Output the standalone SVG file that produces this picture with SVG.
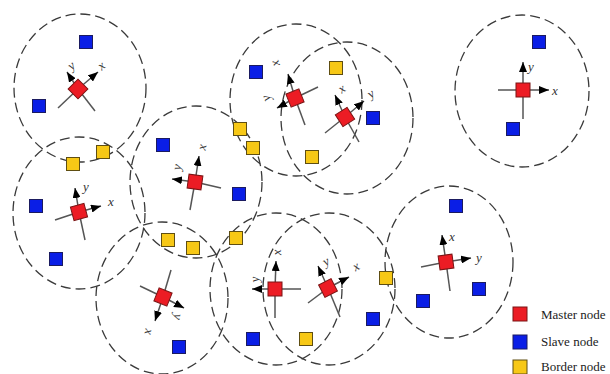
<svg xmlns="http://www.w3.org/2000/svg" width="610" height="374" viewBox="0 0 610 374">
<style>
.range{fill:none;stroke:#3a3a3a;stroke-width:1.3;stroke-dasharray:10 5}
.arm{stroke:#555;stroke-width:1.5;fill:none}
.ax{stroke:#555;stroke-width:1.5;fill:none;marker-end:url(#ah)}
.master{fill:#ec1c24;stroke:#7a1414;stroke-width:1}
.slave{fill:#0a1ee6;stroke:#1b1b60;stroke-width:1}
.border{fill:#f7c816;stroke:#5f4e12;stroke-width:1}
.lbl{font-family:"Liberation Serif",serif;font-style:italic;font-size:13px;fill:#333}
.leg{font-family:"Liberation Serif",serif;font-size:13px;fill:#222}
</style>
<defs>
<marker id="ah" markerUnits="userSpaceOnUse" markerWidth="10" markerHeight="8" refX="10" refY="4" orient="auto">
<path d="M0,0 L10,4 L0,8 z" fill="#000"/>
</marker>
<rect id="sq" x="-6.5" y="-6.5" width="13" height="13"/>
<rect id="msq" x="-7" y="-7" width="14" height="14"/>
</defs>
<rect width="610" height="374" fill="#fff"/>

<g id="ranges">
<ellipse class="range" cx="80" cy="88" rx="66" ry="74"/>
<ellipse class="range" cx="79" cy="213" rx="66" ry="76"/>
<ellipse class="range" cx="196" cy="182" rx="66" ry="76"/>
<ellipse class="range" cx="162" cy="298" rx="66" ry="76"/>
<ellipse class="range" cx="296" cy="100" rx="66" ry="76"/>
<ellipse class="range" cx="347" cy="118" rx="66" ry="76"/>
<ellipse class="range" cx="522" cy="91" rx="67" ry="76"/>
<ellipse class="range" cx="276" cy="289" rx="66" ry="76"/>
<ellipse class="range" cx="329" cy="289" rx="66" ry="76"/>
<ellipse class="range" cx="449" cy="262" rx="64" ry="76"/>
</g>

<g id="slaves">
<use href="#sq" class="slave" x="86" y="42"/>
<use href="#sq" class="slave" x="39" y="106"/>
<use href="#sq" class="slave" x="163" y="145"/>
<use href="#sq" class="slave" x="36" y="206"/>
<use href="#sq" class="slave" x="56" y="259"/>
<use href="#sq" class="slave" x="239" y="194"/>
<use href="#sq" class="slave" x="256" y="72"/>
<use href="#sq" class="slave" x="373" y="118"/>
<use href="#sq" class="slave" x="539" y="42"/>
<use href="#sq" class="slave" x="513" y="129"/>
<use href="#sq" class="slave" x="179" y="347"/>
<use href="#sq" class="slave" x="253" y="339"/>
<use href="#sq" class="slave" x="373" y="319"/>
<use href="#sq" class="slave" x="456" y="206"/>
<use href="#sq" class="slave" x="479" y="289"/>
<use href="#sq" class="slave" x="423" y="301"/>
</g>

<g id="borders">
<use href="#sq" class="border" x="73" y="164"/>
<use href="#sq" class="border" x="103" y="152"/>
<use href="#sq" class="border" x="240" y="129"/>
<use href="#sq" class="border" x="253" y="148"/>
<use href="#sq" class="border" x="336" y="68"/>
<use href="#sq" class="border" x="312" y="157"/>
<use href="#sq" class="border" x="168" y="240"/>
<use href="#sq" class="border" x="193" y="248"/>
<use href="#sq" class="border" x="236" y="238"/>
<use href="#sq" class="border" x="306" y="339"/>
<use href="#sq" class="border" x="386" y="278"/>
</g>

<g id="master1">
<line class="arm" x1="78" y1="89" x2="58" y2="108"/>
<line class="arm" x1="78" y1="89" x2="95" y2="111"/>
<line class="ax" x1="78" y1="89" x2="98" y2="72"/>
<line class="ax" x1="78" y1="89" x2="67" y2="72"/>
<use href="#msq" class="master" transform="translate(78 89) rotate(45)"/>
<text class="lbl" transform="translate(104 69) rotate(-40)" text-anchor="middle">x</text>
<text class="lbl" transform="translate(74 69) rotate(-40)" text-anchor="middle">y</text>
</g>

<g id="master2">
<line class="arm" x1="79" y1="212" x2="55" y2="220"/>
<line class="arm" x1="79" y1="212" x2="85" y2="240"/>
<line class="ax" x1="79" y1="212" x2="101" y2="206"/>
<line class="ax" x1="79" y1="212" x2="75" y2="188"/>
<use href="#msq" class="master" transform="translate(79 212) rotate(-15)"/>
<text class="lbl" x="111" y="206" text-anchor="middle">x</text>
<text class="lbl" x="86" y="191" text-anchor="middle">y</text>
</g>

<g id="master3">
<line class="arm" x1="195" y1="182" x2="221" y2="188"/>
<line class="arm" x1="195" y1="182" x2="190" y2="210"/>
<line class="ax" x1="195" y1="182" x2="199" y2="156"/>
<line class="ax" x1="195" y1="182" x2="172" y2="179"/>
<use href="#msq" class="master" transform="translate(195 182) rotate(8)"/>
<text class="lbl" transform="translate(206 148) rotate(-80)" text-anchor="middle">x</text>
<text class="lbl" transform="translate(181 168) rotate(-80)" text-anchor="middle">y</text>
</g>

<g id="master4">
<line class="arm" x1="163" y1="297" x2="171" y2="270"/>
<line class="arm" x1="163" y1="297" x2="140" y2="286"/>
<line class="ax" x1="163" y1="297" x2="155" y2="321"/>
<line class="ax" x1="163" y1="297" x2="184" y2="308"/>
<use href="#msq" class="master" transform="translate(163 297) rotate(22)"/>
<text class="lbl" transform="translate(145 331) rotate(100)" text-anchor="middle">x</text>
<text class="lbl" transform="translate(174 316) rotate(100)" text-anchor="middle">y</text>
</g>

<g id="master5">
<line class="arm" x1="295" y1="98" x2="318" y2="87"/>
<line class="arm" x1="295" y1="98" x2="305" y2="125"/>
<line class="ax" x1="295" y1="98" x2="288" y2="74"/>
<line class="ax" x1="295" y1="98" x2="277" y2="108"/>
<use href="#msq" class="master" transform="translate(295 98) rotate(-22)"/>
<text class="lbl" transform="translate(279 62) rotate(-110)" text-anchor="middle">x</text>
<text class="lbl" transform="translate(270 97) rotate(-110)" text-anchor="middle">y</text>
</g>

<g id="master6">
<line class="arm" x1="345" y1="117" x2="325" y2="133"/>
<line class="arm" x1="345" y1="117" x2="359" y2="142"/>
<line class="ax" x1="345" y1="117" x2="335" y2="95"/>
<line class="ax" x1="345" y1="117" x2="364" y2="101"/>
<use href="#msq" class="master" transform="translate(345 117) rotate(-33)"/>
<text class="lbl" transform="translate(344 92) rotate(-35)" text-anchor="middle">x</text>
<text class="lbl" transform="translate(373 97) rotate(-35)" text-anchor="middle">y</text>
</g>

<g id="master7">
<line class="arm" x1="523" y1="90" x2="498" y2="90"/>
<line class="arm" x1="523" y1="90" x2="523" y2="119"/>
<line class="ax" x1="523" y1="90" x2="549" y2="90"/>
<line class="ax" x1="523" y1="90" x2="523" y2="62"/>
<use href="#msq" class="master" transform="translate(523 90)"/>
<text class="lbl" x="555" y="95" text-anchor="middle">x</text>
<text class="lbl" x="531" y="71" text-anchor="middle">y</text>
</g>

<g id="master8">
<line class="arm" x1="275" y1="289" x2="301" y2="289"/>
<line class="arm" x1="275" y1="289" x2="275" y2="318"/>
<line class="ax" x1="275" y1="289" x2="276" y2="261"/>
<line class="ax" x1="275" y1="289" x2="252" y2="289"/>
<use href="#msq" class="master" transform="translate(275 289)"/>
<text class="lbl" transform="translate(281 252) rotate(-95)" text-anchor="middle">x</text>
<text class="lbl" transform="translate(259 279) rotate(-95)" text-anchor="middle">y</text>
</g>

<g id="master9">
<line class="arm" x1="328" y1="288" x2="308" y2="303"/>
<line class="arm" x1="328" y1="288" x2="340" y2="317"/>
<line class="ax" x1="328" y1="288" x2="318" y2="266"/>
<line class="ax" x1="328" y1="288" x2="349" y2="277"/>
<use href="#msq" class="master" transform="translate(328 288) rotate(-27)"/>
<text class="lbl" transform="translate(328 265) rotate(-30)" text-anchor="middle">y</text>
<text class="lbl" transform="translate(358 270) rotate(-30)" text-anchor="middle">x</text>
</g>

<g id="master10">
<line class="arm" x1="446" y1="262" x2="421" y2="267"/>
<line class="arm" x1="446" y1="262" x2="450" y2="291"/>
<line class="ax" x1="446" y1="262" x2="442" y2="235"/>
<line class="ax" x1="446" y1="262" x2="471" y2="258"/>
<use href="#msq" class="master" transform="translate(446 262) rotate(-8)"/>
<text class="lbl" x="452" y="241" text-anchor="middle">x</text>
<text class="lbl" x="479" y="262" text-anchor="middle">y</text>
</g>

<g id="legend">
<use href="#msq" class="master" x="520" y="314"/>
<use href="#msq" class="slave" x="520" y="342"/>
<use href="#msq" class="border" x="520" y="367"/>
<text class="leg" x="541" y="319">Master node</text>
<text class="leg" x="541" y="346">Slave node</text>
<text class="leg" x="541" y="371">Border node</text>
</g>
</svg>
